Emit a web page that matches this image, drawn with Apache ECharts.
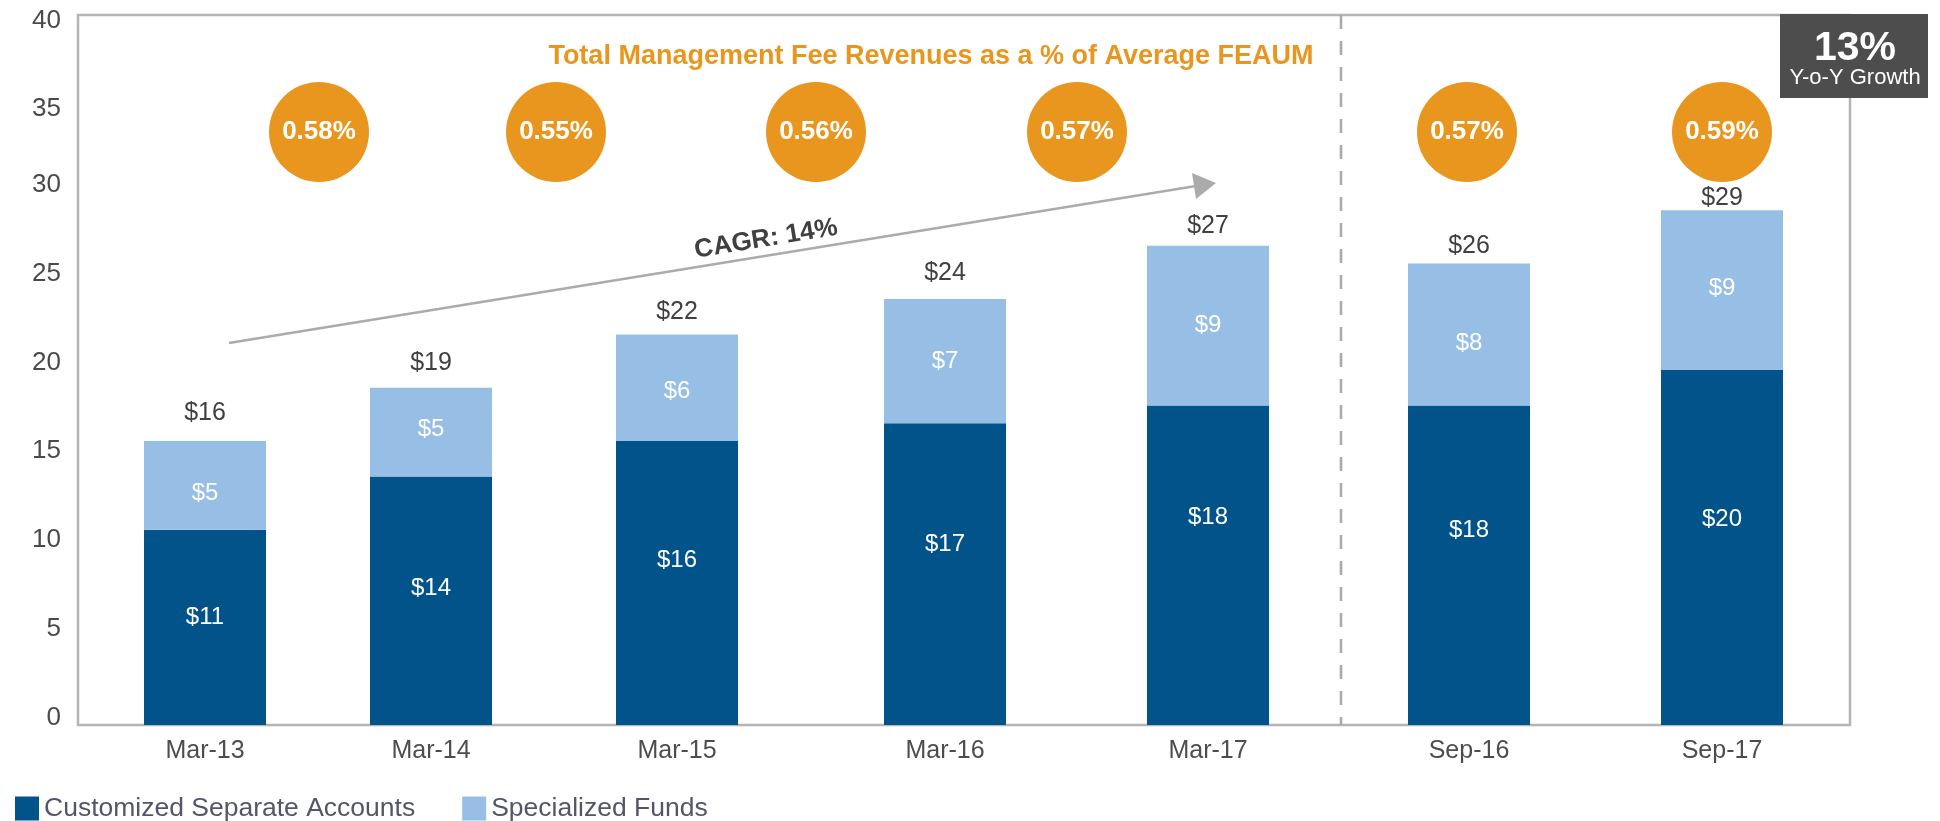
<!DOCTYPE html>
<html><head><meta charset="utf-8">
<script src="https://cdn.jsdelivr.net/npm/echarts@6/dist/echarts.min.js"></script>
<style>html,body{margin:0;padding:0;background:#fff}#c{width:1940px;height:821px}</style>
</head><body><div id="c"></div>
<script>
// ---------- data ----------
const categories = ['Mar-13', 'Mar-14', 'Mar-15', 'Mar-16', 'Mar-17', 'Sep-16', 'Sep-17'];
const customizedSeparateAccounts = [11, 14, 16, 17, 18, 18, 20];
const specializedFunds = [5, 5, 6, 7, 9, 8, 9];
const feeRatePct = [0.58, 0.55, 0.56, 0.57, 0.57, 0.59];
const yAxisMin = 0, yAxisMax = 40, yAxisStep = 5;
const seriesNames = ['Customized Separate Accounts', 'Specialized Funds'];
const titleText = 'Total Management Fee Revenues as a % of Average FEAUM';
const cagrText = 'CAGR: 14%';
const yoyValue = '13%';
const yoyLabel = 'Y-o-Y Growth';

// ---------- layout & style ----------
const FONT = "'Liberation Sans', Arial, Helvetica, sans-serif";
const plot = { left: 78, right: 1850, top: 15, bottom: 725 };
const barCenters = [205, 431, 677, 945, 1208, 1469, 1722];
const barW = 122;
const darkLabelPos = ['45%', '45%', '42%', '40%', '35%', '39%', '42%'];
const lightLabelPos = ['59%', '47%', '53%', '50%', '50%', '56%', '49%'];
const totalLabelGap = [15, 12, 10, 13, 7, 5, 0];
const bubbleCenters = [319, 556, 816, 1077, 1467, 1722];
const bubbleY = 132, bubbleR = 50;
const DARK = '#02538A', LIGHT = '#97BFE6', ORANGE = '#E8961E';

const totals = categories.map((_, i) => customizedSeparateAccounts[i] + specializedFunds[i]);

const grid = [{
  left: plot.left, top: plot.top, width: plot.right - plot.left, height: plot.bottom - plot.top,
  show: true, borderColor: '#B4B4B4', borderWidth: 2.5, backgroundColor: 'transparent'
}];
const xAxis = [{ type: 'category', gridIndex: 0, data: [''], show: false }];
const yAxis = [{
  type: 'value', gridIndex: 0, min: yAxisMin, max: yAxisMax, interval: yAxisStep,
  axisLine: { show: false }, axisTick: { show: false }, splitLine: { show: false },
  axisLabel: {
    margin: 17,
    formatter: v => (v >= 35 ? '{d|' + v + '}' : '{u|' + v + '}'),
    rich: {
      u: { fontSize: 26, fontFamily: FONT, color: '#4a4a4a', padding: [0, 0, 15, 0] },
      d: { fontSize: 26, fontFamily: FONT, color: '#4a4a4a', padding: [11, 0, 0, 0] }
    }
  }
}];
const series = [];

categories.forEach((cat, i) => {
  const gi = i + 1;
  grid.push({ left: barCenters[i] - barW / 2, width: barW, top: plot.top, height: plot.bottom - plot.top });
  xAxis.push({
    type: 'category', gridIndex: gi, data: [cat],
    axisLine: { show: false }, axisTick: { show: false },
    axisLabel: { fontSize: 25, fontFamily: FONT, color: '#4d4d4d', margin: 14 }
  });
  yAxis.push({ type: 'value', gridIndex: gi, min: yAxisMin, max: yAxisMax, show: false });
  series.push({
    type: 'bar', name: seriesNames[0], xAxisIndex: gi, yAxisIndex: gi, stack: 's' + i,
    barWidth: '100%', data: [customizedSeparateAccounts[i]], silent: true,
    itemStyle: { color: DARK },
    label: { show: true, position: ['50%', darkLabelPos[i]], align: 'center', verticalAlign: 'middle',
      color: '#fff', fontSize: 24, fontFamily: FONT, formatter: p => '$' + Math.round(p.value) }
  });
  series.push({
    type: 'bar', name: seriesNames[1], xAxisIndex: gi, yAxisIndex: gi, stack: 's' + i,
    barWidth: '100%', data: [specializedFunds[i]], silent: true,
    itemStyle: { color: LIGHT },
    label: { show: true, position: ['50%', lightLabelPos[i]], align: 'center', verticalAlign: 'middle',
      color: '#fff', fontSize: 24, fontFamily: FONT, formatter: p => '$' + Math.round(p.value) }
  });
  series.push({
    type: 'bar', name: 'total', xAxisIndex: gi, yAxisIndex: gi, stack: 's' + i,
    barWidth: '100%', data: [0], silent: true,
    itemStyle: { color: 'transparent' },
    label: { show: true, position: 'top', distance: totalLabelGap[i], color: '#404040', fontSize: 25, fontFamily: FONT,
      formatter: () => '$' + Math.round(totals[i]) }
  });
});

feeRatePct.forEach((v, j) => {
  series.push({
    type: 'pie', center: [bubbleCenters[j], bubbleY], radius: bubbleR, silent: true,
    startAngle: 90, emphasis: { disabled: true },
    data: [{ value: v, name: 'fee' + j }],
    itemStyle: { color: ORANGE, borderWidth: 0 },
    labelLine: { show: false },
    label: { show: true, position: 'center', formatter: v.toFixed(2) + '%',
      color: '#fff', fontWeight: 'bold', fontSize: 26, fontFamily: FONT }
  });
});

const arrowStart = [229, 343], arrowTip = [1216, 183];
const ang = Math.atan2(arrowStart[1] - arrowTip[1], arrowTip[0] - arrowStart[0]);

const option = {
  backgroundColor: '#fff',
  animation: false,
  grid, xAxis, yAxis, series,
  legend: {
    data: seriesNames, left: 15, top: 795, padding: 0, itemWidth: 24, itemHeight: 24, itemGap: 47,
    icon: 'rect', selectedMode: false,
    textStyle: { fontSize: 26.5, fontFamily: FONT, color: '#55556a' }
  },
  graphic: [
    { type: 'line', z: 5, shape: { x1: 1341, y1: plot.top, x2: 1341, y2: plot.bottom },
      style: { stroke: '#A8A8A8', lineWidth: 2.5, lineDash: [14, 12] } },
    { type: 'line', z: 5, shape: { x1: arrowStart[0], y1: arrowStart[1], x2: 1196, y2: 186 },
      style: { stroke: '#ABABAB', lineWidth: 2.5 } },
    { type: 'polygon', z: 5, shape: { points: [arrowTip, [1192, 173], [1196, 199]] },
      style: { fill: '#ABABAB' } },
    { type: 'text', z: 6, x: 766, y: 239, rotation: ang,
      style: { text: cagrText, fontSize: 26, fontWeight: 'bold', fontFamily: FONT, fill: '#404040',
        align: 'center', verticalAlign: 'middle' } },
    { type: 'text', z: 6, x: 931, y: 57,
      style: { text: titleText, fontSize: 27, fontWeight: 'bold', fontFamily: FONT, fill: ORANGE,
        align: 'center', verticalAlign: 'middle' } },
    { type: 'rect', z: 50, shape: { x: 1780, y: 14, width: 148, height: 84 }, style: { fill: '#4D4D4D' } },
    { type: 'text', z: 51, x: 1855, y: 49,
      style: { text: yoyValue, fontSize: 41, fontWeight: 'bold', fontFamily: FONT, fill: '#fff',
        align: 'center', verticalAlign: 'middle' } },
    { type: 'text', z: 51, x: 1855, y: 78,
      style: { text: yoyLabel, fontSize: 22, fontFamily: FONT, fill: '#fff',
        align: 'center', verticalAlign: 'middle' } }
  ]
};

const chart = echarts.init(document.getElementById('c'), null, { renderer: 'canvas' });
chart.setOption(option);
</script>
</body></html>
